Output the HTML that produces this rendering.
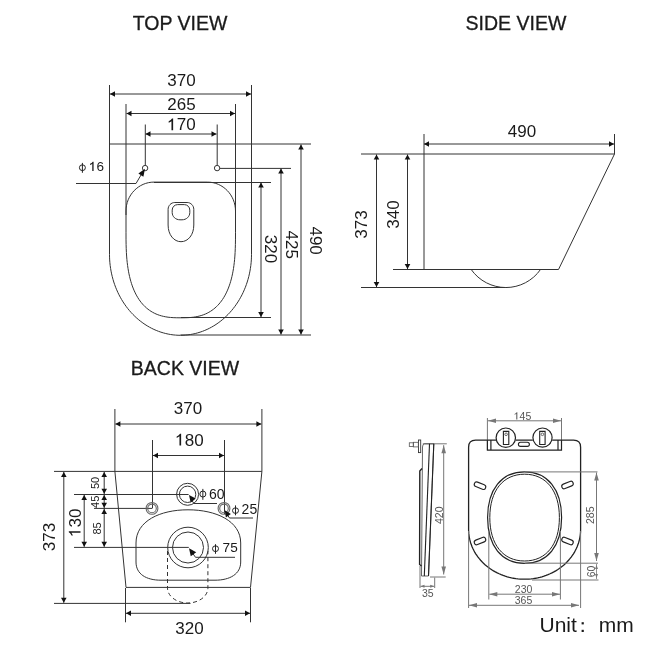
<!DOCTYPE html>
<html><head><meta charset="utf-8"><style>
html,body{margin:0;padding:0;background:#fff;width:650px;height:650px;overflow:hidden}
svg{display:block;font-family:"Liberation Sans",sans-serif}
</style></head><body>
<svg width="650" height="650" viewBox="0 0 650 650">
<rect width="650" height="650" fill="#fff"/>
<g opacity="0.999">
<text x="180" y="30" font-size="19.5" fill="#1a1a1a" text-anchor="middle" stroke="#1a1a1a" stroke-width="0.3">TOP VIEW</text>
<text x="516" y="29.6" font-size="19.5" fill="#1a1a1a" text-anchor="middle" stroke="#1a1a1a" stroke-width="0.3">SIDE VIEW</text>
<text x="185" y="375" font-size="19.5" fill="#1a1a1a" text-anchor="middle" stroke="#1a1a1a" stroke-width="0.3">BACK VIEW</text>
<path d="M109.5,85 V254.3 L109.50,254.30 L109.54,257.13 L109.67,259.95 L109.89,262.77 L110.19,265.57 L110.58,268.37 L111.05,271.14 L111.61,273.90 L112.25,276.63 L112.97,279.33 L113.78,282.00 L114.67,284.64 L115.64,287.25 L116.69,289.81 L117.81,292.33 L119.01,294.80 L120.29,297.22 L121.64,299.59 L123.06,301.91 L124.55,304.17 L126.11,306.37 L127.74,308.50 L129.43,310.57 L131.18,312.57 L132.99,314.49 L134.86,316.35 L136.79,318.13 L138.77,319.83 L140.80,321.45 L142.88,322.99 L145.00,324.45 L147.17,325.82 L149.38,327.10 L151.62,328.30 L153.90,329.40 L156.22,330.42 L158.56,331.34 L160.93,332.16 L163.32,332.89 L165.74,333.53 L168.17,334.07 L170.62,334.51 L173.08,334.86 L175.55,335.10 L178.02,335.25 L180.50,335.30 L182.98,335.25 L185.45,335.10 L187.92,334.86 L190.38,334.51 L192.83,334.07 L195.26,333.53 L197.68,332.89 L200.07,332.16 L202.44,331.34 L204.78,330.42 L207.10,329.40 L209.38,328.30 L211.62,327.10 L213.83,325.82 L216.00,324.45 L218.12,322.99 L220.20,321.45 L222.23,319.83 L224.21,318.13 L226.14,316.35 L228.01,314.49 L229.82,312.57 L231.57,310.57 L233.26,308.50 L234.89,306.37 L236.45,304.17 L237.94,301.91 L239.36,299.59 L240.71,297.22 L241.99,294.80 L243.19,292.33 L244.31,289.81 L245.36,287.25 L246.33,284.64 L247.22,282.00 L248.03,279.33 L248.75,276.63 L249.39,273.90 L249.95,271.14 L250.42,268.37 L250.81,265.57 L251.11,262.77 L251.33,259.95 L251.46,257.13 L251.50,254.30 L251.5,85" stroke="#333" stroke-width="1" fill="none" />
<line x1="110.0" y1="94" x2="251.0" y2="94" stroke="#333" stroke-width="1" />
<polygon points="110.00,94.00 115.00,91.20 115.00,96.80" fill="#111"/>
<polygon points="251.00,94.00 246.00,96.80 246.00,91.20" fill="#111"/>
<text x="167.32" y="85.80" font-size="17" fill="#1a1a1a" >370</text>
<line x1="126" y1="104" x2="126" y2="215" stroke="#333" stroke-width="1" />
<line x1="235.5" y1="104" x2="235.5" y2="215" stroke="#333" stroke-width="1" />
<line x1="126.5" y1="113.5" x2="235" y2="113.5" stroke="#333" stroke-width="1" />
<polygon points="126.50,113.50 131.50,110.70 131.50,116.30" fill="#111"/>
<polygon points="235.00,113.50 230.00,116.30 230.00,110.70" fill="#111"/>
<text x="167.32" y="110.00" font-size="17" fill="#1a1a1a" >265</text>
<line x1="145.3" y1="124.5" x2="145.3" y2="165.3" stroke="#333" stroke-width="1" />
<line x1="217.2" y1="124.5" x2="217.2" y2="165.3" stroke="#333" stroke-width="1" />
<line x1="145.5" y1="134" x2="216.5" y2="134" stroke="#333" stroke-width="1" />
<polygon points="145.50,134.00 150.50,131.20 150.50,136.80" fill="#111"/>
<polygon points="216.50,134.00 211.50,136.80 211.50,131.20" fill="#111"/>
<g transform="translate(181.50,130.30)"><text x="-14.18" y="0" font-size="17" fill="#1a1a1a" > 70</text><path d="M700,0 L500,0 L500,1105 Q390,1000 165,915 L165,1080 Q455,1195 565,1409 L700,1409 Z" fill="#1a1a1a" transform="translate(-14.18,0) scale(0.008301,-0.008301)"/></g>
<line x1="109.5" y1="144" x2="311" y2="144" stroke="#333" stroke-width="1" />
<circle cx="145.1" cy="168.1" r="2.7" stroke="#333" stroke-width="1" fill="none"/>
<circle cx="217.1" cy="168.1" r="2.7" stroke="#333" stroke-width="1" fill="none"/>
<line x1="219.8" y1="168.4" x2="291" y2="168.4" stroke="#333" stroke-width="1" />
<path d="M126,232.8 V211 C126,195.1024 138.544,182.1 154,182.1 H207.5 C222.956,182.1 235.5,195.1024 235.5,211 V232.8 L235.50,232.80 L235.48,239.88 L235.40,244.63 L235.28,248.76 L235.10,252.52 L234.88,256.04 L234.61,259.35 L234.29,262.51 L233.92,265.52 L233.50,268.41 L233.03,271.19 L232.52,273.87 L231.95,276.45 L231.34,278.94 L230.68,281.35 L229.97,283.67 L229.21,285.90 L228.40,288.06 L227.55,290.14 L226.64,292.14 L225.69,294.07 L224.69,295.92 L223.65,297.70 L222.55,299.40 L221.41,301.02 L220.21,302.57 L218.97,304.05 L217.68,305.45 L216.35,306.78 L214.96,308.03 L213.51,309.21 L212.02,310.31 L210.47,311.34 L208.87,312.29 L207.21,313.17 L205.48,313.97 L203.69,314.70 L201.83,315.35 L199.89,315.92 L197.85,316.42 L195.72,316.84 L193.46,317.19 L191.03,317.45 L188.37,317.65 L185.31,317.76 L180.75,317.80 L176.19,317.76 L173.13,317.65 L170.47,317.45 L168.04,317.19 L165.78,316.84 L163.65,316.42 L161.61,315.92 L159.67,315.35 L157.81,314.70 L156.02,313.97 L154.29,313.17 L152.63,312.29 L151.03,311.34 L149.48,310.31 L147.99,309.21 L146.54,308.03 L145.15,306.78 L143.82,305.45 L142.53,304.05 L141.29,302.57 L140.09,301.02 L138.95,299.40 L137.85,297.70 L136.81,295.92 L135.81,294.07 L134.86,292.14 L133.95,290.14 L133.10,288.06 L132.29,285.90 L131.53,283.67 L130.82,281.35 L130.16,278.94 L129.55,276.45 L128.98,273.87 L128.47,271.19 L128.00,268.41 L127.58,265.52 L127.21,262.51 L126.89,259.35 L126.62,256.04 L126.40,252.52 L126.22,248.76 L126.10,244.63 L126.02,239.88 L126.00,232.80 Z" stroke="#333" stroke-width="1" fill="none" />
<line x1="154" y1="182.5" x2="271" y2="182.5" stroke="#333" stroke-width="1" />
<line x1="180.75" y1="317.5" x2="271" y2="317.5" stroke="#333" stroke-width="1" />
<line x1="180.5" y1="335" x2="311" y2="335" stroke="#333" stroke-width="1" />
<line x1="261" y1="182.5" x2="261" y2="317" stroke="#333" stroke-width="1" />
<polygon points="261.00,182.50 263.80,187.50 258.20,187.50" fill="#111"/>
<polygon points="261.00,317.00 258.20,312.00 263.80,312.00" fill="#111"/>
<line x1="281" y1="168.5" x2="281" y2="334.5" stroke="#333" stroke-width="1" />
<polygon points="281.00,168.50 283.80,173.50 278.20,173.50" fill="#111"/>
<polygon points="281.00,334.50 278.20,329.50 283.80,329.50" fill="#111"/>
<line x1="301" y1="144.5" x2="301" y2="334.5" stroke="#333" stroke-width="1" />
<polygon points="301.00,144.50 303.80,149.50 298.20,149.50" fill="#111"/>
<polygon points="301.00,334.50 298.20,329.50 303.80,329.50" fill="#111"/>
<g transform="translate(265.00,249.00) rotate(90)"><text x="-14.18" y="0" font-size="17" fill="#1a1a1a" >320</text></g>
<g transform="translate(285.50,244.70) rotate(90)"><text x="-14.18" y="0" font-size="17" fill="#1a1a1a" >425</text></g>
<g transform="translate(309.50,240.60) rotate(90)"><text x="-14.18" y="0" font-size="17" fill="#1a1a1a" >490</text></g>
<path d="M76,183.5 H136 L141,175" stroke="#333" stroke-width="1" fill="none" />
<polygon points="145.00,168.80 143.38,176.71 138.37,173.41" fill="#111"/>
<ellipse cx="82.4" cy="167.7" rx="3.0" ry="2.9" stroke="#222" stroke-width="1.0" fill="none"/>
<line x1="82.4" y1="162.9" x2="82.4" y2="172.8" stroke="#222" stroke-width="1.0"/>
<g transform="translate(88.97,170.97)"><text x="0.00" y="0" font-size="13.5" fill="#1a1a1a" > 6</text><path d="M700,0 L500,0 L500,1105 Q390,1000 165,915 L165,1080 Q455,1195 565,1409 L700,1409 Z" fill="#1a1a1a" transform="translate(0.00,0) scale(0.006592,-0.006592)"/></g>
<path d="M168.1,209.3 C168.1,205.7 171,202.5 174.8,202.5 H187.1 C190.9,202.5 193.8,205.7 193.8,209.3 V225 C193.8,235 188,241.7 181,241.7 C174,241.7 168.1,235 168.1,225 Z" stroke="#333" stroke-width="1" fill="none" />
<path d="M172.2,210.1 C172.2,207 174.6,204.6 177.7,204.6 H184.3 C187.4,204.6 189.8,207 189.8,210.1 V212.5 C189.8,216.8 186.3,219.8 182,219.8 H180 C175.7,219.8 172.2,216.8 172.2,212.5 Z" stroke="#333" stroke-width="1" fill="none" />
<line x1="361" y1="154" x2="614.5" y2="154" stroke="#333" stroke-width="1" />
<line x1="424" y1="134" x2="424" y2="269.5" stroke="#333" stroke-width="1" />
<line x1="614.5" y1="134" x2="614.5" y2="154" stroke="#333" stroke-width="1" />
<line x1="424" y1="144" x2="614" y2="144" stroke="#333" stroke-width="1" />
<polygon points="424.00,144.00 429.00,141.20 429.00,146.80" fill="#111"/>
<polygon points="614.00,144.00 609.00,146.80 609.00,141.20" fill="#111"/>
<text x="507.82" y="137.00" font-size="17" fill="#1a1a1a" >490</text>
<line x1="614.5" y1="154" x2="558.5" y2="269.5" stroke="#333" stroke-width="1" />
<line x1="393" y1="269.5" x2="558.5" y2="269.5" stroke="#333" stroke-width="1" />
<line x1="361" y1="287.5" x2="505.5" y2="287.5" stroke="#333" stroke-width="1" />
<path d="M471.2,269.5 A42.3,42.3 0 0 0 540.5,269.5" stroke="#333" stroke-width="1" fill="none" />
<line x1="376.5" y1="154.5" x2="376.5" y2="287" stroke="#333" stroke-width="1" />
<polygon points="376.50,154.50 379.30,159.50 373.70,159.50" fill="#111"/>
<polygon points="376.50,287.00 373.70,282.00 379.30,282.00" fill="#111"/>
<line x1="407.5" y1="154.5" x2="407.5" y2="269" stroke="#333" stroke-width="1" />
<polygon points="407.50,154.50 410.30,159.50 404.70,159.50" fill="#111"/>
<polygon points="407.50,269.00 404.70,264.00 410.30,264.00" fill="#111"/>
<g transform="translate(366.50,224.50) rotate(-90)"><text x="-14.18" y="0" font-size="17" fill="#1a1a1a" >373</text></g>
<g transform="translate(398.80,214.50) rotate(-90)"><text x="-14.18" y="0" font-size="17" fill="#1a1a1a" >340</text></g>
<line x1="114.9" y1="409" x2="114.9" y2="471.4" stroke="#333" stroke-width="1" />
<line x1="261.9" y1="409" x2="261.9" y2="471.4" stroke="#333" stroke-width="1" />
<line x1="115.4" y1="424" x2="261.4" y2="424" stroke="#333" stroke-width="1" />
<polygon points="115.40,424.00 120.40,421.20 120.40,426.80" fill="#111"/>
<polygon points="261.40,424.00 256.40,426.80 256.40,421.20" fill="#111"/>
<text x="173.82" y="414.00" font-size="17" fill="#1a1a1a" >370</text>
<line x1="152.5" y1="440" x2="152.5" y2="508.4" stroke="#333" stroke-width="1" />
<line x1="224.5" y1="440" x2="224.5" y2="514" stroke="#333" stroke-width="1" />
<line x1="153" y1="455.5" x2="224" y2="455.5" stroke="#333" stroke-width="1" />
<polygon points="153.00,455.50 158.00,452.70 158.00,458.30" fill="#111"/>
<polygon points="224.00,455.50 219.00,458.30 219.00,452.70" fill="#111"/>
<g transform="translate(189.50,445.50)"><text x="-14.18" y="0" font-size="17" fill="#1a1a1a" > 80</text><path d="M700,0 L500,0 L500,1105 Q390,1000 165,915 L165,1080 Q455,1195 565,1409 L700,1409 Z" fill="#1a1a1a" transform="translate(-14.18,0) scale(0.008301,-0.008301)"/></g>
<line x1="54" y1="471.4" x2="261.9" y2="471.4" stroke="#333" stroke-width="1" />
<path d="M114.9,471.4 L126,587.4 M261.9,471.4 L250.5,587.4" stroke="#333" stroke-width="1" fill="none" />
<line x1="126" y1="587.4" x2="250.5" y2="587.4" stroke="#333" stroke-width="1" />
<line x1="74" y1="494.5" x2="188.6" y2="494.5" stroke="#333" stroke-width="1" />
<line x1="94" y1="508.4" x2="152" y2="508.4" stroke="#333" stroke-width="1" />
<line x1="74" y1="547.4" x2="188.8" y2="547.4" stroke="#333" stroke-width="1" />
<line x1="54" y1="603.4" x2="190.5" y2="603.4" stroke="#333" stroke-width="1" />
<line x1="63.8" y1="472" x2="63.8" y2="602.8" stroke="#333" stroke-width="1" />
<polygon points="63.80,472.00 66.60,477.00 61.00,477.00" fill="#111"/>
<polygon points="63.80,602.80 61.00,597.80 66.60,597.80" fill="#111"/>
<line x1="84.2" y1="495" x2="84.2" y2="546.8" stroke="#333" stroke-width="1" />
<polygon points="84.20,495.00 87.00,500.00 81.40,500.00" fill="#111"/>
<polygon points="84.20,546.80 81.40,541.80 87.00,541.80" fill="#111"/>
<line x1="104.2" y1="472" x2="104.2" y2="546.8" stroke="#333" stroke-width="1" />
<polygon points="104.20,472.00 107.00,477.00 101.40,477.00" fill="#111"/>
<polygon points="104.20,493.80 101.40,488.80 107.00,488.80" fill="#111"/>
<polygon points="104.20,495.00 107.00,500.00 101.40,500.00" fill="#111"/>
<polygon points="104.20,507.80 101.40,502.80 107.00,502.80" fill="#111"/>
<polygon points="104.20,509.00 107.00,514.00 101.40,514.00" fill="#111"/>
<polygon points="104.20,546.80 101.40,541.80 107.00,541.80" fill="#111"/>
<g transform="translate(99.20,483.00) rotate(-90)"><text x="-6.12" y="0" font-size="11" fill="#1a1a1a" >50</text></g>
<g transform="translate(99.20,501.80) rotate(-90)"><text x="-6.12" y="0" font-size="11" fill="#1a1a1a" >45</text></g>
<g transform="translate(100.60,528.50) rotate(-90)"><text x="-6.12" y="0" font-size="11" fill="#1a1a1a" >85</text></g>
<g transform="translate(80.50,522.80) rotate(-90)"><text x="-14.18" y="0" font-size="17" fill="#1a1a1a" > 30</text><path d="M700,0 L500,0 L500,1105 Q390,1000 165,915 L165,1080 Q455,1195 565,1409 L700,1409 Z" fill="#1a1a1a" transform="translate(-14.18,0) scale(0.008301,-0.008301)"/></g>
<g transform="translate(55.30,537.00) rotate(-90)"><text x="-14.18" y="0" font-size="17" fill="#1a1a1a" >373</text></g>
<circle cx="187.6" cy="494.3" r="11" stroke="#333" stroke-width="1" fill="none"/>
<circle cx="187.6" cy="494.3" r="8.2" stroke="#333" stroke-width="1" fill="none"/>
<circle cx="152" cy="508.4" r="5.9" stroke="#666" stroke-width="1.1" fill="none"/>
<circle cx="152" cy="508.4" r="4.3" stroke="#666" stroke-width="1.1" fill="none"/>
<circle cx="224" cy="508.4" r="5.9" stroke="#666" stroke-width="1.1" fill="none"/>
<circle cx="224" cy="508.4" r="4.3" stroke="#666" stroke-width="1.1" fill="none"/>
<circle cx="188" cy="547.5" r="20.3" stroke="#333" stroke-width="1" fill="none"/>
<circle cx="188" cy="547.5" r="15.5" stroke="#333" stroke-width="1" fill="none"/>
<path d="M217,503.5 H194 L191.5,500" stroke="#333" stroke-width="1" fill="none" />
<polygon points="189.00,494.90 195.76,498.58 190.64,502.42" fill="#111"/>
<path d="M253,518 H229.5 L227.5,515" stroke="#333" stroke-width="1" fill="none" />
<polygon points="224.80,510.30 230.88,514.08 225.87,517.38" fill="#111"/>
<path d="M235,557.3 H195.5 L192.5,553" stroke="#333" stroke-width="1" fill="none" />
<polygon points="189.00,548.20 196.22,552.16 190.78,556.24" fill="#111"/>
<ellipse cx="202.85" cy="494.05" rx="3.0" ry="3.0" stroke="#222" stroke-width="1.0" fill="none"/>
<line x1="202.85" y1="488.9" x2="202.85" y2="499.8" stroke="#222" stroke-width="1.0"/>
<text x="209.09" y="498.66" font-size="14" fill="#1a1a1a" >60</text>
<ellipse cx="235.5" cy="510.6" rx="3.0" ry="2.8" stroke="#222" stroke-width="1.0" fill="none"/>
<line x1="235.5" y1="505.4" x2="235.5" y2="515.3" stroke="#222" stroke-width="1.0"/>
<text x="241.60" y="513.76" font-size="14" fill="#1a1a1a" >25</text>
<ellipse cx="215.5" cy="548.7" rx="3.0" ry="2.9" stroke="#222" stroke-width="1.0" fill="none"/>
<line x1="215.5" y1="544.2" x2="215.5" y2="553.8" stroke="#222" stroke-width="1.0"/>
<text x="222.60" y="552.47" font-size="13.6" fill="#1a1a1a" >75</text>
<path d="M136,543 C136,521 160,509.8 188,509.8 C216,509.8 240.7,521 240.7,543 V562 C240.7,574 230,580.2 215,580.2 H161 C146,580.2 136,574 136,562 Z" stroke="#333" stroke-width="1" fill="none" />
<path d="M167.5,551 V588 A20.2,15 0 0 0 207.9,588 V551" stroke="#333" stroke-width="1" fill="none" stroke-dasharray="4,3"/>
<line x1="125.5" y1="588" x2="125.5" y2="622.3" stroke="#333" stroke-width="1" />
<line x1="250.5" y1="588" x2="250.5" y2="622.3" stroke="#333" stroke-width="1" />
<line x1="126" y1="613.3" x2="250" y2="613.3" stroke="#333" stroke-width="1" />
<polygon points="126.00,613.30 131.00,610.50 131.00,616.10" fill="#111"/>
<polygon points="250.00,613.30 245.00,616.10 245.00,610.50" fill="#111"/>
<text x="175.32" y="634.20" font-size="17" fill="#1a1a1a" >320</text>
<line x1="487.4" y1="418" x2="487.4" y2="450" stroke="#777" stroke-width="1" />
<line x1="561.5" y1="418" x2="561.5" y2="450" stroke="#777" stroke-width="1" />
<line x1="488" y1="420.8" x2="561" y2="420.8" stroke="#777" stroke-width="1" />
<polygon points="488.00,420.80 496.00,418.50 496.00,423.10" fill="#777"/>
<polygon points="561.00,420.80 553.00,423.10 553.00,418.50" fill="#777"/>
<g transform="translate(522.50,419.50)"><text x="-8.76" y="0" font-size="10.5" fill="#555" > 45</text><path d="M700,0 L500,0 L500,1105 Q390,1000 165,915 L165,1080 Q455,1195 565,1409 L700,1409 Z" fill="#555" transform="translate(-8.76,0) scale(0.005127,-0.005127)"/></g>
<path d="M468.6,529.5 V447.2 Q468.6,440.2 475.6,440.2 H487.4 M561.5,440.2 H573.6 Q580.6,440.2 580.6,447.2 V529.5 L580.60,529.50 L580.56,531.45 L580.43,533.40 L580.21,535.34 L579.91,537.27 L579.52,539.20 L579.05,541.10 L578.50,542.99 L577.86,544.86 L577.14,546.70 L576.34,548.52 L575.46,550.31 L574.50,552.06 L573.46,553.78 L572.35,555.47 L571.16,557.11 L569.90,558.71 L568.58,560.27 L567.18,561.78 L565.72,563.24 L564.20,564.64 L562.61,566.00 L560.97,567.29 L559.27,568.53 L557.52,569.71 L555.71,570.82 L553.86,571.88 L551.96,572.86 L550.02,573.78 L548.04,574.63 L546.03,575.42 L543.98,576.13 L541.90,576.77 L539.80,577.33 L537.67,577.83 L535.53,578.25 L533.36,578.59 L531.18,578.86 L528.99,579.05 L526.80,579.16 L524.60,579.20 L522.40,579.16 L520.21,579.05 L518.02,578.86 L515.84,578.59 L513.67,578.25 L511.53,577.83 L509.40,577.33 L507.30,576.77 L505.22,576.13 L503.17,575.42 L501.16,574.63 L499.18,573.78 L497.24,572.86 L495.34,571.88 L493.49,570.82 L491.68,569.71 L489.93,568.53 L488.23,567.29 L486.59,566.00 L485.00,564.64 L483.48,563.24 L482.02,561.78 L480.62,560.27 L479.30,558.71 L478.04,557.11 L476.85,555.47 L475.74,553.78 L474.70,552.06 L473.74,550.31 L472.86,548.52 L472.06,546.70 L471.34,544.86 L470.70,542.99 L470.15,541.10 L469.68,539.20 L469.29,537.27 L468.99,535.34 L468.77,533.40 L468.64,531.45 L468.60,529.50" stroke="#222" stroke-width="1.3" fill="none" />
<path d="M487.4,440.2 H496 M515.5,440.2 H532.8 M552.2,440.2 H561.5 M487.4,440.2 V450.2 H561.5 V440.2 M490.9,440.2 V450.2 M558,440.2 V450.2" stroke="#222" stroke-width="1.2" fill="none" />
<circle cx="505.8" cy="437.7" r="9.7" stroke="#222" stroke-width="1.2" fill="none"/>
<circle cx="542.5" cy="437.6" r="9.6" stroke="#222" stroke-width="1.2" fill="none"/>
<path d="M503.40000000000003,431.4 H508.8 V444.5 H503.40000000000003 Z" stroke="#222" stroke-width="1.1" fill="none" />
<circle cx="506.1" cy="434.3" r="1.3" stroke="#444" stroke-width="0.8" fill="none"/>
<path d="M539.6999999999999,431.4 H545.1 V444.5 H539.6999999999999 Z" stroke="#222" stroke-width="1.1" fill="none" />
<circle cx="542.4" cy="434.3" r="1.3" stroke="#444" stroke-width="0.8" fill="none"/>
<path d="M520.5,442.2 H527.3 A2,2 0 0 1 527.3,446.4 H520.5 A2,2 0 0 1 520.5,442.2 Z" stroke="#222" stroke-width="1.1" fill="none" />
<path d="M524.6,471.9 C547.5400000000001,471.9 561.6,489.2659999999999 561.6,517.5999999999999 C561.6,545.9339999999999 547.5400000000001,563.3 524.6,563.3 C501.66,563.3 487.6,545.9339999999999 487.6,517.5999999999999 C487.6,489.2659999999999 501.66,471.9 524.6,471.9 Z" stroke="#222" stroke-width="1.2" fill="none" />
<path d="M524.6,474.2 C546.176,474.2 559.4,490.692 559.4,517.6 C559.4,544.508 546.176,561.0 524.6,561.0 C503.02400000000006,561.0 489.8,544.508 489.8,517.6 C489.8,490.692 503.02400000000006,474.2 524.6,474.2 Z" stroke="#222" stroke-width="1.0" fill="none" />
<rect x="474" y="483.3" width="12" height="4.8" rx="2.4" ry="2.4" transform="rotate(22 480 485.7)" stroke="#222" stroke-width="1.1" fill="none"/>
<rect x="561.5" y="482.6" width="12" height="4.8" rx="2.4" ry="2.4" transform="rotate(-22 567.5 485)" stroke="#222" stroke-width="1.1" fill="none"/>
<rect x="474" y="538.6" width="12" height="4.8" rx="2.4" ry="2.4" transform="rotate(-22 480 541)" stroke="#222" stroke-width="1.1" fill="none"/>
<rect x="561.5" y="538.6" width="12" height="4.8" rx="2.4" ry="2.4" transform="rotate(22 567.5 541)" stroke="#222" stroke-width="1.1" fill="none"/>
<line x1="524.6" y1="471.9" x2="597.5" y2="471.9" stroke="#777" stroke-width="1" />
<line x1="524.6" y1="563.2" x2="598" y2="563.2" stroke="#777" stroke-width="1" />
<line x1="532" y1="580" x2="598.5" y2="580" stroke="#777" stroke-width="1" />
<line x1="596.5" y1="472.5" x2="596.5" y2="561" stroke="#777" stroke-width="1" />
<polygon points="596.50,472.50 598.80,480.50 594.20,480.50" fill="#777"/>
<polygon points="596.50,561.00 594.20,553.00 598.80,553.00" fill="#777"/>
<g transform="translate(593.90,515.30) rotate(-90)"><text x="-8.76" y="0" font-size="10.5" fill="#555" >285</text></g>
<line x1="596.5" y1="564" x2="596.5" y2="579" stroke="#777" stroke-width="0.8" />
<polygon points="596.50,565.00 598.00,569.00 595.00,569.00" fill="#777"/>
<polygon points="596.50,578.00 595.00,574.00 598.00,574.00" fill="#777"/>
<g transform="translate(594.80,571.50) rotate(-90)"><text x="-5.84" y="0" font-size="10.5" fill="#555" >60</text></g>
<line x1="488.8" y1="531" x2="488.8" y2="599.5" stroke="#777" stroke-width="1" />
<line x1="560.4" y1="531" x2="560.4" y2="599.5" stroke="#777" stroke-width="1" />
<line x1="489.3" y1="594.2" x2="560" y2="594.2" stroke="#777" stroke-width="1" />
<polygon points="489.30,594.20 497.30,591.90 497.30,596.50" fill="#777"/>
<polygon points="560.00,594.20 552.00,596.50 552.00,591.90" fill="#777"/>
<text x="514.84" y="593.20" font-size="10.5" fill="#555" >230</text>
<line x1="468.6" y1="531" x2="468.6" y2="608" stroke="#777" stroke-width="1" />
<line x1="580.6" y1="531" x2="580.6" y2="608" stroke="#777" stroke-width="1" />
<line x1="469" y1="605.3" x2="579" y2="605.3" stroke="#777" stroke-width="1" />
<polygon points="469.00,605.30 477.00,603.00 477.00,607.60" fill="#777"/>
<polygon points="579.00,605.30 571.00,607.60 571.00,603.00" fill="#777"/>
<text x="514.74" y="603.80" font-size="10.5" fill="#555" >365</text>
<line x1="422.8" y1="443.8" x2="446.8" y2="443.8" stroke="#777" stroke-width="1" />
<line x1="443.7" y1="445.2" x2="443.7" y2="574.5" stroke="#777" stroke-width="1" />
<polygon points="443.70,445.20 446.00,453.20 441.40,453.20" fill="#777"/>
<polygon points="443.70,574.50 441.40,566.50 446.00,566.50" fill="#777"/>
<g transform="translate(443.20,515.30) rotate(-90)"><text x="-8.76" y="0" font-size="10.5" fill="#555" >420</text></g>
<line x1="430" y1="577" x2="445.7" y2="577" stroke="#777" stroke-width="1" />
<path d="M421.5,576 L422.5,447 Q422.7,443.8 424.5,443.8 H433.8 L428.5,576 Z" stroke="#555" stroke-width="0.9" fill="none" />
<path d="M429.5,443.8 L424.3,576" stroke="#222" stroke-width="1.1" fill="none" />
<path d="M433.8,443.8 L428.5,576" stroke="#222" stroke-width="1.1" fill="none" />
<path d="M422,468.5 L419.8,471 L419.6,564.5 L421.5,566" stroke="#222" stroke-width="1.4" fill="none" />
<rect x="418.5" y="440" width="2.2" height="12.6" fill="none" stroke="#333" stroke-width="0.9"/>
<rect x="409.3" y="442.8" width="4" height="3.7" fill="none" stroke="#555" stroke-width="0.8"/>
<rect x="413.3" y="442.3" width="5" height="4.6" fill="none" stroke="#555" stroke-width="0.8"/>
<line x1="420" y1="566" x2="420" y2="588" stroke="#777" stroke-width="1" />
<line x1="434.7" y1="577.5" x2="434.7" y2="588" stroke="#777" stroke-width="1" />
<line x1="420.5" y1="586.3" x2="434.2" y2="586.3" stroke="#777" stroke-width="1" />
<polygon points="420.50,586.30 424.50,584.80 424.50,587.80" fill="#777"/>
<polygon points="434.20,586.30 430.20,587.80 430.20,584.80" fill="#777"/>
<text x="421.96" y="596.50" font-size="10.5" fill="#555" >35</text>
<text x="539.4798828125" y="632.194921875" font-size="21" fill="#1a1a1a" text-anchor="start" >Unit</text>
<rect x="581.6" y="622.2" width="2.2" height="2.2" fill="#1a1a1a"/><rect x="581.6" y="629.8" width="2.2" height="2.2" fill="#1a1a1a"/>
<text x="598.80546875" y="632.4" font-size="21" fill="#1a1a1a" text-anchor="start" >mm</text>
</g>
</svg></body></html>
